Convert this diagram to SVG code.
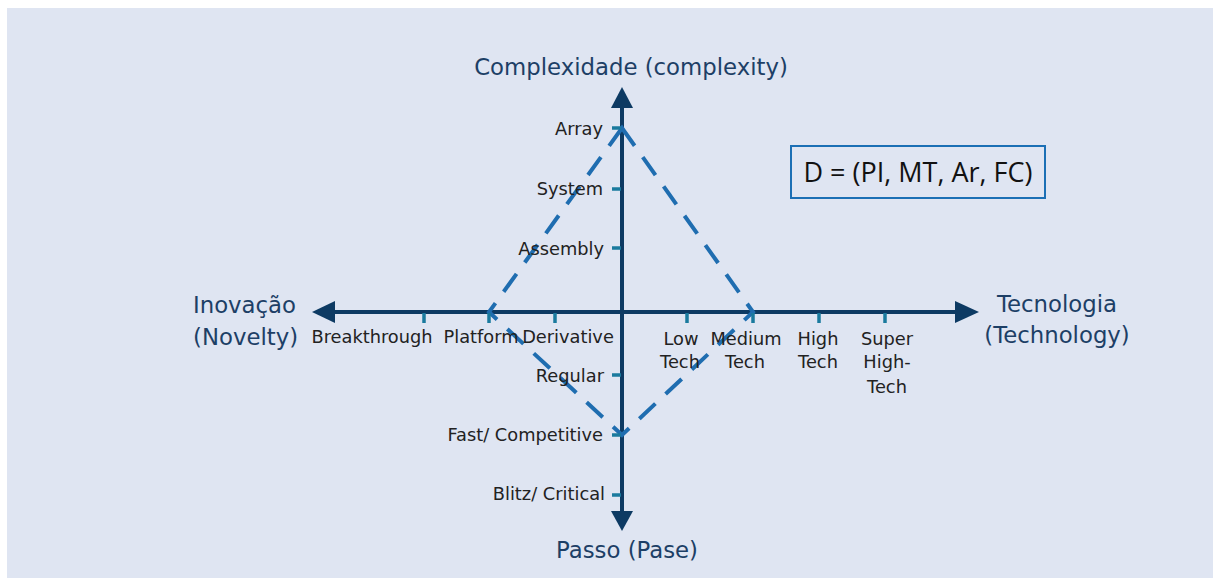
<svg xmlns="http://www.w3.org/2000/svg" width="1213" height="578" viewBox="0 0 1213 578">
<defs>
<style>
.axis{stroke:#0d3a63;stroke-width:4;fill:none}
.head{fill:#0d3a63}
.tick{stroke:#1a7a9e;stroke-width:3.5}
.dash{stroke:#1f6db0;stroke-width:4;fill:none;stroke-dasharray:22 14}
.title{font-family:"DejaVu Sans","Open Sans",sans-serif;font-size:22.8px;fill:#1d3f66}
.lbl{font-family:"DejaVu Sans","Open Sans",sans-serif;font-size:17.8px;fill:#222}
.mid{text-anchor:middle}
.end{text-anchor:end}
.eq{font-family:"Open Sans","Liberation Sans",sans-serif;font-size:27px;fill:#111;text-anchor:middle}
</style>
</defs>
<rect x="7" y="8" width="1206" height="570" fill="#dfe5f2"/>
<g id="connectors">
<line class="axis" x1="622" y1="100" x2="622" y2="518"/>
<path class="head" d="M622,87 L611,108 L633,108 Z"/>
<path class="head" d="M622,531 L611,511 L633,511 Z"/>
<line class="axis" x1="325" y1="312" x2="965" y2="312"/>
<path class="head" d="M312,312 L335,301 L335,323 Z"/>
<path class="head" d="M979,312 L955,301 L955,323 Z"/>
<path class="dash" d="M622,128 L489,312 L622,435 L753,312 Z"/>
</g>
<g id="ticks">
<line class="tick" x1="612" y1="128" x2="621" y2="128"/>
<line class="tick" x1="612" y1="189" x2="621" y2="189"/>
<line class="tick" x1="612" y1="248" x2="621" y2="248"/>
<line class="tick" x1="612" y1="375" x2="621" y2="375"/>
<line class="tick" x1="612" y1="435" x2="621" y2="435"/>
<line class="tick" x1="612" y1="495" x2="621" y2="495"/>
<line class="tick" x1="424" y1="313" x2="424" y2="323"/>
<line class="tick" x1="489" y1="313" x2="489" y2="323"/>
<line class="tick" x1="555" y1="313" x2="555" y2="323"/>
<line class="tick" x1="687" y1="313" x2="687" y2="323"/>
<line class="tick" x1="753" y1="313" x2="753" y2="323"/>
<line class="tick" x1="819" y1="313" x2="819" y2="323"/>
<line class="tick" x1="885" y1="313" x2="885" y2="323"/>
</g>
<g id="axis-titles">
<text class="title mid" x="631" y="75">Complexidade (complexity)</text>
<text class="title mid" x="627" y="558">Passo (Pase)</text>
<text class="title" x="193" y="313">Inovação</text>
<text class="title" x="193" y="345">(Novelty)</text>
<text class="title mid" x="1057" y="312">Tecnologia</text>
<text class="title mid" x="1057" y="343">(Technology)</text>
</g>
<g id="vertical-labels">
<text class="lbl end" x="603" y="135">Array</text>
<text class="lbl end" x="603" y="195">System</text>
<text class="lbl end" x="604" y="255">Assembly</text>
<text class="lbl end" x="604" y="382">Regular</text>
<text class="lbl end" x="603" y="441">Fast/ Competitive</text>
<text class="lbl end" x="605" y="500">Blitz/ Critical</text>
</g>
<g id="horizontal-labels">
<text class="lbl mid" x="372" y="343">Breakthrough</text>
<text class="lbl mid" x="481" y="343">Platform</text>
<text class="lbl mid" x="568" y="343">Derivative</text>
<text class="lbl mid" x="681" y="345">Low</text>
<text class="lbl mid" x="680" y="368">Tech</text>
<text class="lbl mid" x="746" y="345">Medium</text>
<text class="lbl mid" x="745" y="368">Tech</text>
<text class="lbl mid" x="818" y="345">High</text>
<text class="lbl mid" x="818" y="368">Tech</text>
<text class="lbl mid" x="887" y="345">Super</text>
<text class="lbl mid" x="887" y="368">High-</text>
<text class="lbl mid" x="887" y="393">Tech</text>
</g>
<g id="formula-box">
<rect x="791" y="146" width="254" height="52" fill="none" stroke="#1b6fb5" stroke-width="2"/>
<text class="eq" x="918" y="182">D = (PI, MT, Ar, FC)</text>
</g>
</svg>
